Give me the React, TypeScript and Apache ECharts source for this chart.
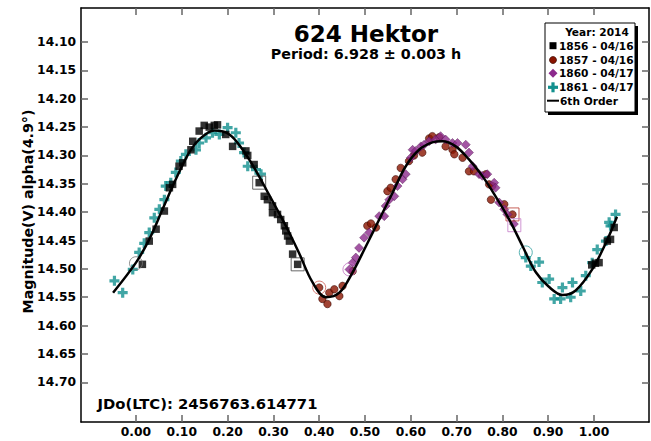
import React, { useEffect, useRef } from "react";
import * as echarts from "echarts";

const FONT = "'DejaVu Sans', 'Liberation Sans', sans-serif";

const xTicks = [0, 0.1, 0.2, 0.3, 0.4, 0.5, 0.6, 0.7, 0.8, 0.9, 1.0];
const yTicks = [14.1, 14.15, 14.2, 14.25, 14.3, 14.35, 14.4, 14.45, 14.5, 14.55, 14.6, 14.65, 14.7];

const titleText = "624 Hektor";
const periodText = "Period: 6.928 ± 0.003 h";
const jdText = "JDo(LTC): 2456763.614771";
const yAxisTitle = "Magnitude(V) alpha(4.9°)";
const legendHeader = "Year: 2014";
const seriesNames = ["1856 - 04/16", "1857 - 04/16", "1860 - 04/17", "1861 - 04/17", "6th Order"];

const black1856 = [
  [0.014, 14.492], [0.029, 14.451], [0.044, 14.43], [0.062, 14.398], [0.073, 14.357], [0.08, 14.351],
  [0.094, 14.319], [0.102, 14.313], [0.12, 14.29], [0.124, 14.275], [0.138, 14.257], [0.149, 14.247],
  [0.16, 14.25], [0.171, 14.247], [0.178, 14.246], [0.196, 14.263], [0.211, 14.284], [0.24, 14.292],
  [0.244, 14.3], [0.258, 14.316], [0.269, 14.348], [0.28, 14.372], [0.287, 14.378], [0.298, 14.389],
  [0.298, 14.401], [0.309, 14.404], [0.316, 14.413], [0.324, 14.424], [0.327, 14.433], [0.331, 14.442],
  [0.335, 14.451], [0.342, 14.474], [0.353, 14.492],
  [0.995, 14.493], [1.003, 14.49], [1.011, 14.489], [1.029, 14.451], [1.036, 14.448], [1.044, 14.427]
];

const red1857 = [
  [0.4, 14.533], [0.407, 14.553], [0.418, 14.562], [0.422, 14.542], [0.433, 14.536], [0.444, 14.548],
  [0.451, 14.53], [0.473, 14.504], [0.505, 14.424], [0.513, 14.42], [0.524, 14.427], [0.549, 14.363],
  [0.556, 14.357], [0.567, 14.342], [0.578, 14.322], [0.596, 14.31], [0.607, 14.3], [0.625, 14.295],
  [0.64, 14.27], [0.647, 14.266], [0.662, 14.268], [0.676, 14.284], [0.691, 14.29], [0.695, 14.298],
  [0.713, 14.304], [0.727, 14.328], [0.738, 14.328], [0.764, 14.333], [0.771, 14.351], [0.775, 14.378],
  [0.778, 14.354], [0.804, 14.386], [0.822, 14.404]
];

const purple1860 = [
  [0.466, 14.501], [0.473, 14.489], [0.48, 14.48], [0.487, 14.463], [0.498, 14.445], [0.509, 14.436],
  [0.531, 14.407], [0.542, 14.407], [0.545, 14.389], [0.553, 14.378], [0.564, 14.372], [0.571, 14.354],
  [0.582, 14.342], [0.589, 14.333], [0.6, 14.304], [0.604, 14.29], [0.611, 14.292], [0.622, 14.284],
  [0.629, 14.281], [0.64, 14.275], [0.654, 14.272], [0.665, 14.266], [0.676, 14.272], [0.691, 14.278],
  [0.702, 14.278], [0.72, 14.281], [0.727, 14.295], [0.735, 14.319], [0.749, 14.333], [0.756, 14.336],
  [0.767, 14.333], [0.782, 14.348], [0.785, 14.357], [0.793, 14.383], [0.804, 14.395], [0.811, 14.404],
  [0.825, 14.421]
];

const teal1861 = [
  [-0.047, 14.521], [-0.029, 14.542], [-0.007, 14.501], [0.007, 14.471], [0.018, 14.455], [0.029, 14.436],
  [0.04, 14.41], [0.051, 14.395], [0.062, 14.378], [0.065, 14.354], [0.076, 14.348], [0.087, 14.33],
  [0.098, 14.31], [0.109, 14.298], [0.131, 14.29], [0.138, 14.278], [0.153, 14.269], [0.167, 14.26],
  [0.182, 14.263], [0.2, 14.251], [0.218, 14.26], [0.225, 14.278], [0.236, 14.295], [0.244, 14.319],
  [0.262, 14.325], [0.273, 14.333],
  [0.851, 14.48], [0.862, 14.495], [0.88, 14.488], [0.887, 14.524], [0.902, 14.518], [0.913, 14.553],
  [0.927, 14.553], [0.931, 14.533], [0.949, 14.55], [0.953, 14.524], [0.971, 14.539], [0.982, 14.512],
  [0.996, 14.489], [1.007, 14.466], [1.026, 14.451], [1.033, 14.418], [1.036, 14.424], [1.047, 14.404]
];

const fit6 = [
  [-0.05, 14.542], [0.0, 14.489], [0.029, 14.448], [0.058, 14.395], [0.087, 14.342], [0.116, 14.295],
  [0.138, 14.272], [0.171, 14.256], [0.204, 14.263], [0.233, 14.29], [0.262, 14.327], [0.291, 14.37],
  [0.327, 14.424], [0.356, 14.472], [0.385, 14.523], [0.415, 14.55], [0.444, 14.542], [0.473, 14.506],
  [0.502, 14.46], [0.531, 14.413], [0.56, 14.366], [0.589, 14.319], [0.618, 14.29], [0.647, 14.277],
  [0.669, 14.275], [0.698, 14.284], [0.727, 14.307], [0.756, 14.336], [0.785, 14.372], [0.815, 14.413],
  [0.844, 14.46], [0.873, 14.506], [0.902, 14.532], [0.931, 14.546], [0.96, 14.538], [0.996, 14.501],
  [1.026, 14.454], [1.05, 14.408]
];

// session start/end markers (hollow)
const openCircleGray = [[0.0, 14.49]];
const openSquareBlack = [[0.269, 14.348], [0.353, 14.492]];
const openCircleRed = [[0.4, 14.533]];
const openCircleViolet = [[0.466, 14.501]];
const openSquareRed = [[0.822, 14.404]];
const openSquareViolet = [[0.826, 14.423]];
const openCircleTeal = [[0.851, 14.471]];

const C_BLACK = "#000000";
const C_RED = "#8a1400";
const C_PURPLE = "#8c2a8c";
const C_TEAL = "#12908e";
const PLUS = "path://M3.4,0H6.6V3.4H10V6.6H6.6V10H3.4V6.6H0V3.4H3.4Z";

function hollow(data: number[][], symbol: string, color: string) {
  return {
    type: "scatter",
    data,
    symbol,
    symbolSize: 13,
    silent: true,
    z: 3,
    itemStyle: { color: "rgba(0,0,0,0)", borderColor: color, borderWidth: 1 }
  };
}

export default function App() {
  const ref = useRef<HTMLDivElement>(null);
  useEffect(() => {
    const chart = echarts.init(ref.current!, null, { renderer: "svg" });
    const tickStyle = { show: true, inside: true, length: 7, lineStyle: { color: "#666", width: 1.5 } };
    const axisLine = { show: true, onZero: false, lineStyle: { color: "#000", width: 1.5 } };
    const lx = 553;
    const tx = 559;
    const rows = [45.7, 60, 73.3, 87.3, 100.7];
    const legendFont = `bold 10.6px ${FONT}`;
    chart.setOption({
      animation: false,
      backgroundColor: "#fff",
      grid: { left: 81, right: 2, top: 8, bottom: 19, containLabel: false },
      xAxis: [
        {
          type: "value", min: -0.12, max: 1.12, position: "bottom",
          axisLine, splitLine: { show: false },
          axisTick: { ...tickStyle, customValues: xTicks },
          axisLabel: {
            customValues: xTicks, margin: 4, color: "#000", fontWeight: "bold", fontSize: 12.3, fontFamily: FONT,
            formatter: (v: number) => v.toFixed(2)
          }
        },
        {
          type: "value", min: -0.12, max: 1.12, position: "top",
          axisLine, splitLine: { show: false },
          axisTick: { ...tickStyle, customValues: xTicks },
          axisLabel: { show: false }
        }
      ],
      yAxis: [
        {
          type: "value", min: 14.04, max: 14.77, inverse: true, position: "left",
          axisLine, splitLine: { show: false },
          axisTick: { ...tickStyle, customValues: yTicks },
          axisLabel: {
            customValues: yTicks, margin: 5, color: "#000", fontWeight: "bold", fontSize: 12.3, fontFamily: FONT,
            formatter: (v: number) => v.toFixed(2)
          }
        },
        {
          type: "value", min: 14.04, max: 14.77, inverse: true, position: "right",
          axisLine, splitLine: { show: false },
          axisTick: { ...tickStyle, customValues: yTicks },
          axisLabel: { show: false }
        }
      ],
      series: [
        {
          name: seriesNames[3], type: "scatter", data: teal1861, symbol: PLUS, symbolSize: 10, z: 2,
          itemStyle: { color: C_TEAL }
        },
        {
          name: seriesNames[0], type: "scatter", data: black1856, symbol: "rect", symbolSize: 7.5, z: 2,
          itemStyle: { color: C_BLACK }
        },
        {
          name: seriesNames[1], type: "scatter", data: red1857, symbol: "circle", symbolSize: 7.5, z: 2,
          itemStyle: { color: C_RED, borderColor: "#3a0800", borderWidth: 0.7 }
        },
        {
          name: seriesNames[2], type: "scatter", data: purple1860, symbol: "diamond", symbolSize: 9, z: 2,
          itemStyle: { color: C_PURPLE, borderColor: "#4a1048", borderWidth: 0.5 }
        },
        hollow(openCircleGray, "circle", "#777"),
        hollow(openSquareBlack, "rect", "#444"),
        hollow(openCircleRed, "circle", "#cc5a50"),
        hollow(openCircleViolet, "circle", "#c070c0"),
        hollow(openSquareRed, "rect", "#b83a30"),
        hollow(openSquareViolet, "rect", "#c47cc8"),
        hollow(openCircleTeal, "circle", "#30a0a0"),
        {
          name: seriesNames[4], type: "line", data: fit6, smooth: 0.35, showSymbol: false, symbol: "none", z: 5,
          lineStyle: { color: "#000", width: 2.5 }
        }
      ],
      graphic: [
        {
          type: "text", x: 366, y: 33.5,
          style: { text: titleText, font: `bold 23px ${FONT}`, fill: "#000", textAlign: "center", textVerticalAlign: "middle" }
        },
        {
          type: "text", x: 366, y: 54,
          style: { text: periodText, font: `bold 14.3px ${FONT}`, fill: "#000", textAlign: "center", textVerticalAlign: "middle" }
        },
        {
          type: "text", x: 97.5, y: 403.5,
          style: { text: jdText, font: `bold 14.8px ${FONT}`, fill: "#000", textAlign: "left", textVerticalAlign: "middle" }
        },
        {
          type: "text", x: 27.5, y: 211.5, rotation: Math.PI / 2,
          style: { text: yAxisTitle, font: `bold 14.2px ${FONT}`, fill: "#000", textAlign: "center", textVerticalAlign: "middle" }
        },
        {
          type: "group", z: 100,
          children: [
            { type: "rect", shape: { x: 548, y: 26, width: 90, height: 89 }, style: { fill: "#000" } },
            { type: "rect", shape: { x: 545, y: 23, width: 90, height: 89 }, style: { fill: "#fff", stroke: "#000", lineWidth: 1 } },
            { type: "text", x: 597, y: 32.3, style: { text: legendHeader, font: legendFont, fill: "#000", textAlign: "center", textVerticalAlign: "middle" } },
            { type: "rect", shape: { x: lx - 3.5, y: rows[0] - 3.5, width: 7, height: 7 }, style: { fill: C_BLACK } },
            { type: "circle", shape: { cx: lx, cy: rows[1], r: 3.5 }, style: { fill: C_RED, stroke: "#3a0800", lineWidth: 0.7 } },
            {
              type: "polygon",
              shape: { points: [[lx, rows[2] - 4.5], [lx + 4.5, rows[2]], [lx, rows[2] + 4.5], [lx - 4.5, rows[2]]] },
              style: { fill: C_PURPLE }
            },
            { type: "rect", shape: { x: lx - 5, y: rows[3] - 1.6, width: 10, height: 3.2 }, style: { fill: C_TEAL } },
            { type: "rect", shape: { x: lx - 1.6, y: rows[3] - 5, width: 3.2, height: 10 }, style: { fill: C_TEAL } },
            { type: "line", shape: { x1: 547, y1: rows[4], x2: 559, y2: rows[4] }, style: { stroke: "#000", lineWidth: 2 } },
            ...seriesNames.map((n, i) => ({
              type: "text", x: i === 4 ? 560 : tx, y: rows[i],
              style: { text: n, font: legendFont, fill: "#000", textAlign: "left", textVerticalAlign: "middle" }
            }))
          ]
        }
      ]
    });
    return () => chart.dispose();
  }, []);
  return (
    <div
      ref={ref}
      style={{ position: "fixed", left: 0, top: 0, width: 651, height: 441, background: "#fff" }}
    />
  );
}
